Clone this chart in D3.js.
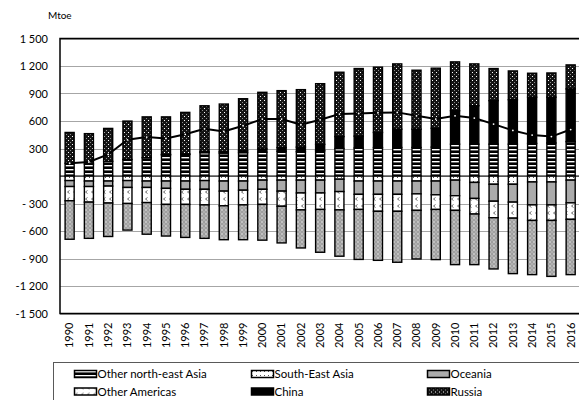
<!DOCTYPE html>
<html><head><meta charset="utf-8">
<script src="https://cdn.jsdelivr.net/npm/d3@7"></script>
<style>
body{margin:0;background:#fff}
svg{display:block}
text{font-family:Lato,"Liberation Sans",sans-serif;fill:#000;white-space:pre}
</style>
</head><body>
<svg id="c" width="579" height="400"></svg>
<script>
const years = ["1990","1991","1992","1993","1994","1995","1996","1997","1998","1999","2000","2001","2002","2003","2004","2005","2006","2007","2008","2009","2010","2011","2012","2013","2014","2015","2016"];
const otherNEAsia   = [139,130,160,180,200,230,235,255,250,255,260,270,265,275,300,305,310,311,311,315,347,347,347,347,355,360,375];
const southEastAsia = [-50,-55,-55,-50,-55,-55,-55,-50,-55,-55,-45,-45,-45,-45,-35,-55,-55,-55,-55,-55,-45,-70,-90,-90,-65,-65,-45];
const oceania       = [-65,-60,-55,-75,-70,-80,-90,-95,-110,-100,-100,-120,-140,-140,-135,-145,-145,-145,-140,-150,-170,-175,-185,-195,-250,-250,-248];
const otherAmericas = [-155,-170,-185,-175,-165,-175,-165,-170,-160,-160,-165,-165,-185,-180,-200,-165,-185,-185,-180,-160,-160,-170,-180,-175,-170,-170,-180];
const china         = [0,0,0,0,0,5,5,10,15,20,35,40,50,70,130,130,165,200,200,205,365,420,475,485,505,500,575];
const russia        = [336,332,359,419,445,410,454,501,520,568,618,621,627,662,702,737,712,712,643,656,533,456,350,314,261,264,262];
const restOfWorld   = [-420,-395,-365,-290,-345,-345,-360,-365,-370,-380,-390,-400,-415,-467,-505,-545,-535,-556,-530,-547,-592,-552,-559,-605,-591,-610,-603];
const lineValues    = [139,153,235,395,425,410,455,515,486,548,621,621,559,613,676,683,690,694,657,621,657,632,566,497,446,430,507];
const yTicks      = [1500,1200,900,600,300,0,-300,-600,-900,-1200,-1500];
const yTickLabels = ["1 500","1 200","900","600","300","","- 300","- 600","- 900","-1 200","-1 500"];
const unitLabel = "Mtoe";

const seriesKeys = ["Other north-east Asia","South-East Asia","Oceania","Other Americas","China","Russia","Rest of world"];
const seriesVals = [otherNEAsia,southEastAsia,oceania,otherAmericas,china,russia,restOfWorld];
const legendKeys = ["Other north-east Asia","South-East Asia","Oceania","Other Americas","China","Russia"];

const rows = years.map((y,i)=>{const o={year:y};seriesKeys.forEach((k,j)=>o[k]=seriesVals[j][i]);return o;});

const svg = d3.select("#c");
const defs = svg.append("defs");
function pat(id,w,h,draw){const p=defs.append("pattern").attr("id",id).attr("patternUnits","userSpaceOnUse").attr("width",w).attr("height",h);draw(p);}
pat("pONEA",4,4,p=>{p.append("rect").attr("width",4).attr("height",4).attr("fill","#000");p.append("rect").attr("y",1).attr("width",4).attr("height",1.4).attr("fill","#fff");});
pat("pSEA",4,4,p=>{p.append("rect").attr("width",4).attr("height",4).attr("fill","#fff");p.append("rect").attr("x",1).attr("y",1).attr("width",1).attr("height",1).attr("fill","#555");});
pat("pOce",4,4,p=>{p.append("rect").attr("width",4).attr("height",4).attr("fill","#ababab");});
pat("pOAm",6,7,p=>{p.append("rect").attr("width",6).attr("height",7).attr("fill","#fff");p.append("path").attr("d","M3.5,1.5 L1.5,3 L3.5,4.5").attr("stroke","#444").attr("stroke-width",0.8).attr("fill","none");});
pat("pChina",4,4,p=>{p.append("rect").attr("width",4).attr("height",4).attr("fill","#000");});
pat("pRus",4,4,p=>{p.append("rect").attr("width",4).attr("height",4).attr("fill","#141414");p.append("rect").attr("x",0).attr("y",0).attr("width",1).attr("height",1).attr("fill","#fff");p.append("rect").attr("x",2).attr("y",2).attr("width",1).attr("height",1).attr("fill","#8a8a8a");});
pat("pRest",4,4,p=>{p.append("rect").attr("width",4).attr("height",4).attr("fill","#b0b0b0");p.append("circle").attr("cx",2).attr("cy",2).attr("r",1.4).attr("fill","#dcdcdc").attr("stroke","#7c7c7c").attr("stroke-width",0.6);});
const fills = {"Other north-east Asia":"url(#pONEA)","South-East Asia":"url(#pSEA)","Oceania":"url(#pOce)","Other Americas":"url(#pOAm)","China":"url(#pChina)","Russia":"url(#pRus)","Rest of world":"url(#pRest)"};

const L=60, R=580.3, T=38.5, B=313.5;
const x = d3.scaleBand().domain(years).range([L,R]).paddingInner(0.53).paddingOuter(0.265);
const y = d3.scaleLinear().domain([-1500,1500]).range([B,T]);

// gridlines
svg.append("g").selectAll("line").data(yTicks).join("line")
  .attr("x1",L).attr("x2",R).attr("y1",d=>Math.round(y(d))+0.5).attr("y2",d=>Math.round(y(d))+0.5)
  .attr("stroke","#a6a6a6").attr("stroke-width",1);

// bars
const stack = d3.stack().keys(seriesKeys).offset(d3.stackOffsetDiverging);
const stacked = stack(rows);
const gBars = svg.append("g");
stacked.forEach(s=>{
  gBars.append("g").selectAll("rect").data(s.filter(d=>d[1]!==d[0])).join("rect")
    .attr("x",d=>x(d.data.year)).attr("width",x.bandwidth())
    .attr("y",d=>y(Math.max(d[0],d[1]))).attr("height",d=>Math.abs(y(d[0])-y(d[1])))
    .attr("fill",fills[s.key]).attr("stroke","#000").attr("stroke-width",1.4);
});

// zero axis line
svg.append("line").attr("x1",L).attr("x2",R).attr("y1",y(0)).attr("y2",y(0)).attr("stroke","#000").attr("stroke-width",1);

// line series
const lineGen = d3.line().x((d,i)=>x(years[i])+x.bandwidth()/2).y(d=>y(d));
svg.append("path").datum(lineValues).attr("d",lineGen).attr("fill","none").attr("stroke","#000").attr("stroke-width",2);
svg.append("g").selectAll("circle").data(lineValues).join("circle")
  .attr("cx",(d,i)=>x(years[i])+x.bandwidth()/2).attr("cy",d=>y(d)).attr("r",0.9).attr("fill","#fff");

// plot border
svg.append("rect").attr("x",L).attr("y",T).attr("width",R-L).attr("height",B-T).attr("fill","none").attr("stroke","#000").attr("stroke-width",1.5);

// y axis
const yAxis = d3.axisLeft(y).tickValues(yTicks).tickSize(0).tickFormat((d,i)=>yTickLabels[i]);
const gy = svg.append("g").attr("transform",`translate(${L},0)`).call(yAxis);
gy.select(".domain").remove();
gy.selectAll(".tick text").attr("x",-12).attr("font-size",11).attr("font-family","Lato");
svg.append("text").attr("x",48).attr("y",19).attr("font-size",10).text(unitLabel);

// x axis
const xAxis = d3.axisBottom(x).tickSize(0);
const gx = svg.append("g").attr("transform",`translate(0,${B})`).call(xAxis);
gx.select(".domain").remove();
gx.selectAll(".tick text").attr("transform","rotate(-90)").attr("text-anchor","end")
  .attr("x",-9).attr("y",0).attr("dy","0.35em").attr("font-size",11).attr("font-family","Lato");

// legend
svg.append("rect").attr("x",53.5).attr("y",362.5).attr("width",600).attr("height",80).attr("fill","none").attr("stroke","#595959").attr("stroke-width",1);
const colX=[74,251,427], rowY=[374,391.5];
const lg = svg.append("g").selectAll("g").data(legendKeys).join("g")
  .attr("transform",(d,i)=>`translate(${colX[i%3]},${rowY[Math.floor(i/3)]})`);
lg.append("rect").attr("x",0.5).attr("y",-3.5).attr("width",22).attr("height",7).attr("fill",d=>fills[d]).attr("stroke","#000").attr("stroke-width",1.5);
lg.append("text").attr("x",23.5).attr("y",0).attr("dy","0.36em").attr("font-size",11.5).text(d=>d);
</script>
</body></html>
